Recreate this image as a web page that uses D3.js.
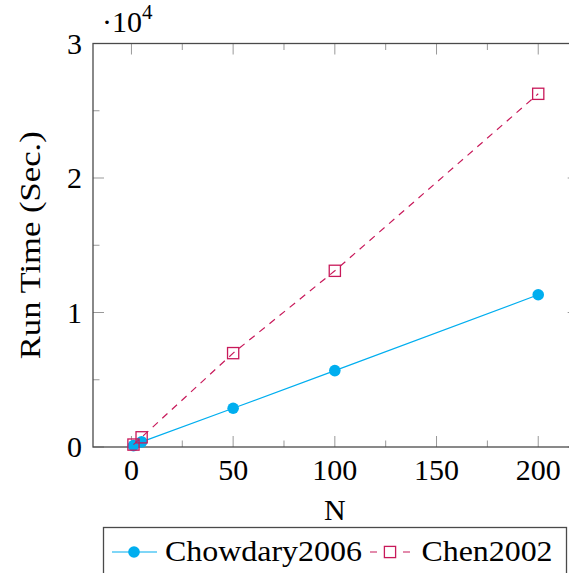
<!DOCTYPE html>
<html>
<head>
<meta charset="utf-8">
<script src="https://cdn.jsdelivr.net/npm/d3@7"></script>
<style>
  html, body { margin: 0; padding: 0; background: #fff; }
  svg { display: block; font-family: "Liberation Serif", "DejaVu Serif", serif; }
</style>
</head>
<body>
<svg id="chart" width="569" height="573"></svg>
<script>
// Run time versus problem size N
const nValues = [1, 5, 50, 100, 200];
const chowdary2006 = [100, 380, 2880, 5680, 11320];
const chen2002 = [180, 720, 6980, 13100, 26260];
const seriesNames = ["Chowdary2006", "Chen2002"];
const xTicks = [0, 50, 100, 150, 200];
const xMinorTicks = [25, 75, 125, 175];
const yTicks = [0, 10000, 20000, 30000];
const yMinorTicks = [5000, 15000, 25000];

const svg = d3.select("#chart");
const blue = "#00aeef";
const red = "#c8195a";
const axisColor = "#4a4a4a";
const tickColor = "#999";

const x = d3.scaleLinear().domain([-18.9, 219.9]).range([93, 578.7]);
const y = d3.scaleLinear().domain([0, 30000]).range([447, 43.5]);

const [x0, x1] = x.range();
const [y0, y1] = y.range();

// ticks on all four sides, pointing inward
const ticks = svg.append("g").attr("stroke", tickColor).attr("stroke-width", 1);
function xTick(v, len) {
  ticks.append("line").attr("x1", x(v)).attr("x2", x(v)).attr("y1", y0).attr("y2", y0 - len);
  ticks.append("line").attr("x1", x(v)).attr("x2", x(v)).attr("y1", y1).attr("y2", y1 + len);
}
function yTick(v, len) {
  ticks.append("line").attr("y1", y(v)).attr("y2", y(v)).attr("x1", x0).attr("x2", x0 + len);
  ticks.append("line").attr("y1", y(v)).attr("y2", y(v)).attr("x1", x1).attr("x2", x1 - len);
}
xTicks.forEach(v => xTick(v, 11));
xMinorTicks.forEach(v => xTick(v, 6.5));
yTicks.forEach(v => yTick(v, 11));
yMinorTicks.forEach(v => yTick(v, 6.5));

// frame
svg.append("rect")
  .attr("x", x0).attr("y", y1)
  .attr("width", x1 - x0).attr("height", y0 - y1)
  .attr("fill", "none").attr("stroke", axisColor).attr("stroke-width", 1.3);

// tick labels
svg.append("g").selectAll("text").data(xTicks).join("text")
  .attr("x", d => x(d)).attr("y", 480)
  .attr("text-anchor", "middle").attr("font-size", 30)
  .text(d => d);

svg.append("g").selectAll("text").data(yTicks).join("text")
  .attr("x", 82).attr("y", d => y(d) + 10)
  .attr("text-anchor", "end").attr("font-size", 30)
  .text(d => d / 10000);

// scale factor
const sf = svg.append("text").attr("x", 102).attr("y", 32).attr("font-size", 30);
sf.append("tspan").text("·10");
sf.append("tspan").attr("font-size", 21).attr("dy", -13).text("4");

// axis titles
svg.append("text").attr("x", (x(0) + x(200)) / 2).attr("y", 520)
  .attr("text-anchor", "middle").attr("font-size", 30).text("N");
svg.append("text")
  .attr("transform", `translate(40,${(y0 + y1) / 2}) rotate(-90)`)
  .attr("text-anchor", "middle").attr("font-size", 30)
  .attr("textLength", 228).attr("lengthAdjust", "spacingAndGlyphs")
  .text("Run Time (Sec.)");

// series
const line = d3.line().x(d => x(d[0])).y(d => y(d[1]));
const chowPts = nValues.map((n, i) => [n, chowdary2006[i]]);
const chenPts = nValues.map((n, i) => [n, chen2002[i]]);

const plot = svg.append("g");
plot.append("path").datum(chowPts).attr("d", line)
  .attr("fill", "none").attr("stroke", blue).attr("stroke-width", 1.2);
plot.selectAll("circle.c").data(chowPts).join("circle").attr("class", "c")
  .attr("cx", d => x(d[0])).attr("cy", d => y(d[1])).attr("r", 5.8)
  .attr("fill", blue);

plot.append("path").datum(chenPts).attr("d", line)
  .attr("fill", "none").attr("stroke", red).attr("stroke-width", 1.2)
  .attr("stroke-dasharray", "7,6");
plot.selectAll("rect.s").data(chenPts).join("rect").attr("class", "s")
  .attr("x", d => x(d[0]) - 5.6).attr("y", d => y(d[1]) - 5.6)
  .attr("width", 11.2).attr("height", 11.2)
  .attr("fill", "none").attr("stroke", red).attr("stroke-width", 1.3);

// legend
const lg = svg.append("g");
lg.append("rect").attr("x", 103.5).attr("y", 527.5).attr("width", 463).attr("height", 60)
  .attr("fill", "#fff").attr("stroke", axisColor).attr("stroke-width", 1.3);
const ly = 552;
lg.append("line").attr("x1", 112).attr("x2", 157).attr("y1", ly).attr("y2", ly)
  .attr("stroke", blue).attr("stroke-width", 1.2);
lg.append("circle").attr("cx", 134).attr("cy", ly).attr("r", 5.8).attr("fill", blue);
lg.append("text").attr("x", 165).attr("y", 561).attr("font-size", 30)
  .attr("textLength", 197).attr("lengthAdjust", "spacingAndGlyphs").text(seriesNames[0]);

lg.append("line").attr("x1", 370).attr("x2", 410).attr("y1", ly).attr("y2", ly)
  .attr("stroke", red).attr("stroke-width", 1.2).attr("stroke-dasharray", "7,26");
lg.append("rect").attr("x", 390 - 5.6).attr("y", ly - 5.6).attr("width", 11.2).attr("height", 11.2)
  .attr("fill", "none").attr("stroke", red).attr("stroke-width", 1.3);
lg.append("text").attr("x", 421.5).attr("y", 561).attr("font-size", 30)
  .attr("textLength", 131).attr("lengthAdjust", "spacingAndGlyphs").text(seriesNames[1]);
</script>
</body>
</html>
